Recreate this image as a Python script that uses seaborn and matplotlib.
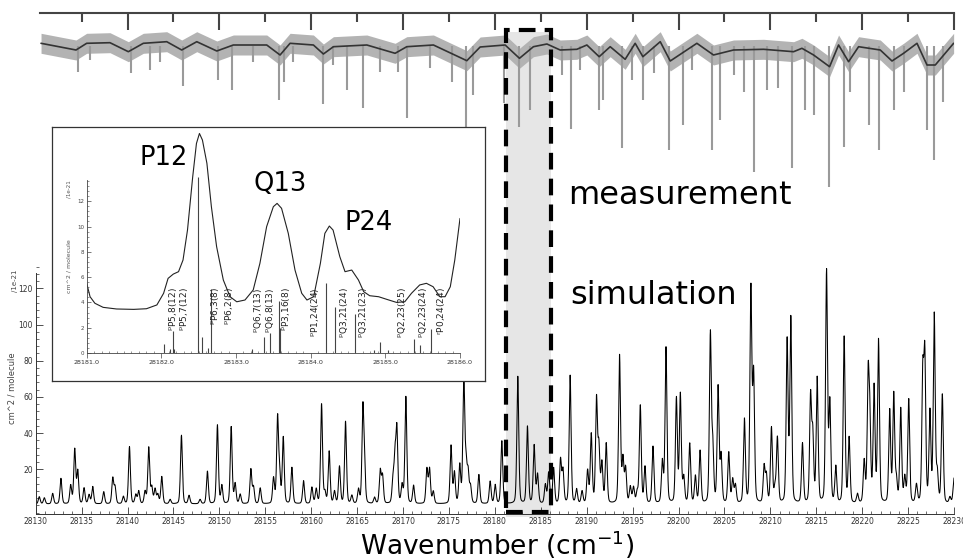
import numpy as np
import matplotlib
matplotlib.use("Agg")
import matplotlib.pyplot as plt
import matplotlib.transforms as mtransforms
from matplotlib.patches import Rectangle
from matplotlib.ticker import MultipleLocator, FixedLocator, FormatStrFormatter
import seaborn as sns

sns.set_theme(style="ticks")
plt.rcParams['font.family'] = ['DejaVu Sans']
plt.rcParams['mathtext.fontset'] = 'dejavusans'

# --- simulated spectrum: line positions (cm-1) and peak heights (1e-21 cm^2/molecule)
sim_pos = [28130.39, 28130.94, 28131.85, 28132.75, 28133.81, 28134.25, 28134.58, 28135.27, 28135.81, 28136.21,
           28137.41, 28138.39, 28138.64, 28139.55, 28140.21, 28140.9, 28141.22, 28141.91, 28142.31, 28142.64,
           28143.0, 28143.3, 28143.73, 28144.64, 28145.87, 28146.7, 28147.9, 28148.7, 28149.79, 28150.27,
           28151.29, 28151.72, 28152.27, 28153.43, 28153.72, 28154.45, 28155.9, 28156.34, 28156.56, 28156.96,
           28157.9, 28159.17, 28160.08, 28160.55, 28161.13, 28161.5, 28161.96, 28162.54, 28163.08, 28163.74,
           28164.43, 28165.15, 28165.63, 28165.81, 28166.9, 28167.52, 28167.77, 28168.9, 28169.12, 28169.33,
           28169.9, 28170.31, 28171.15, 28172.6, 28172.89, 28173.3, 28175.23, 28175.6, 28176.18, 28176.62,
           28176.87, 28177.09, 28177.35, 28178.26, 28179.49, 28180.04, 28180.76, 28182.5, 28183.55, 28184.28,
           28184.65, 28185.5, 28185.86, 28186.4, 28187.15, 28187.42, 28188.2, 28188.9, 28189.5, 28190.1,
           28190.5, 28191.07, 28191.33, 28191.66, 28192.13, 28193.58, 28193.95, 28194.24, 28194.75, 28195.1,
           28195.5, 28195.84, 28196.35, 28197.22, 28198.24, 28198.64, 28199.77, 28200.2, 28200.57, 28201.22,
           28201.84, 28202.35, 28203.47, 28203.73, 28204.31, 28204.64, 28205.47, 28205.9, 28206.2, 28207.18,
           28207.88, 28208.18, 28209.32, 28209.57, 28210.12, 28210.5, 28210.77, 28211.83, 28212.23, 28213.5,
           28214.38, 28214.62, 28215.1, 28216.12, 28216.48, 28217.13, 28218.04, 28218.58, 28219.49, 28220.22,
           28220.65, 28220.83, 28221.3, 28221.78, 28223.0, 28223.44, 28223.73, 28224.2, 28224.64, 28225.07,
           28225.91, 28226.6, 28226.82, 28227.38, 28227.85, 28228.18, 28228.73, 28229.56, 28230.0]
sim_height = [4.0, 3.4, 5.8, 14.1, 10.1, 30.0, 18.0, 8.7, 5.0, 9.5,
              6.7, 14.0, 9.0, 4.0, 31.6, 5.0, 7.0, 6.7, 31.0, 9.0,
              8.0, 5.0, 15.0, 2.4, 38.0, 4.6, 2.4, 18.0, 43.5, 10.0,
              42.5, 11.0, 5.2, 19.0, 9.0, 8.7, 14.0, 47.0, 15.0, 36.5,
              20.0, 12.7, 9.0, 8.0, 55.0, 6.0, 28.8, 6.7, 20.5, 45.4,
              4.4, 7.8, 52.0, 16.0, 3.4, 18.0, 15.0, 12.0, 24.0, 40.0,
              10.0, 59.0, 10.0, 19.0, 19.0, 6.7, 32.0, 17.0, 21.0, 69.0,
              20.0, 16.0, 9.0, 16.0, 12.4, 10.4, 34.7, 70.3, 42.6, 32.1,
              16.0, 10.4, 17.0, 19.6, 24.0, 18.0, 70.8, 7.8, 6.7, 18.0,
              38.0, 57.0, 30.0, 22.0, 33.0, 81.8, 24.0, 19.0, 9.0, 8.7,
              6.0, 54.0, 20.0, 31.5, 23.0, 86.0, 57.9, 60.0, 14.0, 33.0,
              15.0, 29.0, 93.0, 30.0, 64.0, 26.0, 28.0, 13.0, 10.0, 46.3,
              118.0, 70.0, 20.0, 15.0, 41.7, 8.0, 36.0, 90.0, 102.0, 33.0,
              58.0, 36.0, 69.0, 128.0, 55.0, 20.0, 92.0, 36.0, 5.0, 23.0,
              66.0, 42.0, 64.0, 90.0, 51.0, 60.0, 12.0, 52.0, 14.0, 57.3,
              10.0, 68.0, 78.0, 50.0, 104.0, 16.0, 60.0, 3.4, 14.0]

# --- measured spectrum (arbitrary units, 0 = baseline, negative = absorption)
meas_smooth_x = [28130.58, 28134.39, 28135.55, 28138.09, 28140.09, 28141.72, 28144.27, 28145.90, 28147.54, 28149.72,
                 28151.52, 28155.16, 28156.61, 28157.70, 28160.24, 28161.33, 28162.42, 28166.06, 28169.14, 28170.41,
                 28173.31, 28176.95, 28178.40, 28181.12, 28182.68, 28184.20, 28185.67, 28187.11, 28188.93, 28190.02,
                 28191.36, 28192.56, 28194.19, 28195.28, 28196.12, 28198.01, 28199.10, 28202.00, 28203.81, 28205.99,
                 28209.26, 28212.53, 28213.44, 28214.71, 28216.45, 28217.43, 28218.52, 28219.61, 28221.97, 28223.25,
                 28224.51, 28225.97, 28227.06, 28227.96, 28229.96]
meas_smooth_y = [-0.3, -7, -0.3, 0.3, -8.7, -0.3, 1.3, -7, 1.3, -8,
                 -2, -2, -12, -0.3, -2, -11, -3.7, -2, -10.3, -3.7,
                 -2, -17.7, -4, -2, -15.3, -3.7, -1, -7, -6.3, -2,
                 -13.7, -3.7, -16.3, -0.3, -13.7, 1.3, -18, -0.3, -12, -7,
                 -6.3, -8.7, -5.3, -12, -23.7, -2, -18.7, -3.7, -7, -18,
                 -10.3, -0.3, -22, -22, -0.3]
meas_line_x = [28134.58, 28135.92, 28140.38, 28142.45, 28143.54, 28146.01, 28149.89, 28151.42, 28153.67, 28156.50,
               28157.05, 28158.03, 28161.26, 28162.39, 28163.88, 28165.69, 28167.51, 28169.47, 28170.48, 28172.95,
               28175.32, 28176.84, 28177.64, 28181.01, 28182.68, 28183.85, 28187.30, 28188.28, 28189.29, 28191.36,
               28191.83, 28193.83, 28194.92, 28196.08, 28197.35, 28198.99, 28200.44, 28201.46, 28203.64, 28204.54,
               28205.99, 28207.08, 28208.25, 28209.63, 28210.83, 28212.35, 28213.80, 28214.71, 28216.34, 28217.97,
               28218.71, 28220.78, 28221.86, 28223.42, 28224.51, 28227.06, 28227.86, 28228.80]
meas_line_depth = [-28.7, -17, -30, -27, -19, -43, -37, -47, -19, -57,
                   -39, -19, -61, -22, -47, -65, -29, -29, -75, -25,
                   -39, -97, -52, -60, -84, -67, -32, -86, -27, -67,
                   -57, -105, -37, -57, -30, -107, -82, -27, -107, -77,
                   -32, -49, -129, -47, -45, -125, -67, -72, -144, -104,
                   -49, -82, -107, -67, -49, -87, -117, -59]

# --- zoomed inset: envelope, stick spectrum, assignments
zoom_x = [28181.0, 28181.045, 28181.11, 28181.22, 28181.40, 28181.63, 28181.80, 28181.94, 28182.03, 28182.09,
          28182.16, 28182.23, 28182.29, 28182.35, 28182.42, 28182.47, 28182.51, 28182.55, 28182.61, 28182.67,
          28182.74, 28182.83, 28182.92, 28183.01, 28183.12, 28183.23, 28183.32, 28183.41, 28183.50, 28183.55,
          28183.61, 28183.70, 28183.79, 28183.88, 28183.95, 28184.04, 28184.13, 28184.19, 28184.25, 28184.30,
          28184.39, 28184.46, 28184.55, 28184.64, 28184.71, 28184.79, 28184.91, 28185.02, 28185.15, 28185.26,
          28185.35, 28185.46, 28185.55, 28185.64, 28185.73, 28185.80, 28185.87, 28185.93, 28186.0]
zoom_y = [5.51, 4.45, 3.93, 3.61, 3.48, 3.45, 3.5, 3.8, 4.72, 5.9,
          6.24, 6.43, 7.35, 9.72, 13.94, 16.57, 17.36, 16.84, 15.0, 11.57,
          8.41, 5.77, 4.45, 4.05, 4.19, 4.98, 7.09, 9.99, 11.57, 11.83,
          11.44, 9.46, 6.56, 4.72, 4.19, 4.45, 7.09, 9.46, 10.04, 9.72,
          7.62, 6.43, 6.56, 5.77, 4.85, 4.53, 4.45, 4.24, 4.0, 4.05,
          4.72, 5.38, 5.51, 5.24, 4.45, 4.45, 5.24, 7.35, 10.64]
stick_x = [28182.04, 28182.12, 28182.15, 28182.165, 28182.49, 28182.54, 28182.62, 28182.67, 28183.22, 28183.37,
           28183.45, 28183.57, 28183.585, 28184.21, 28184.33, 28184.59, 28184.85, 28184.93, 28185.04, 28185.38,
           28185.46, 28185.61]
stick_h = [0.71, 0.32, 1.77, 0.32, 13.94, 1.26, 0.37, 5.08, 0.32, 1.29,
           1.58, 4.14, 1.98, 5.53, 3.61, 3.06, 0.21, 0.84, 0.26, 1.11,
           0.61, 1.9]
assign_x = [28182.15, 28182.30, 28182.72, 28182.90, 28183.30, 28183.45, 28183.67, 28184.06, 28184.44, 28184.70,
            28185.22, 28185.51, 28185.75]
assign_lbl = [r"${}^{\mathrm{p}}$P5,8(12)", r"${}^{\mathrm{p}}$P5,7(12)",
              r"${}^{\mathrm{p}}$P6,3(8)", r"${}^{\mathrm{p}}$P6,2(8)",
              r"${}^{\mathrm{p}}$Q6,7(13)", r"${}^{\mathrm{p}}$Q6,8(13)",
              r"${}^{\mathrm{p}}$P3,16(8)", r"${}^{\mathrm{p}}$P1,24(24)",
              r"${}^{\mathrm{p}}$Q3,21(24)", r"${}^{\mathrm{p}}$Q3,21(23)",
              r"${}^{\mathrm{p}}$Q2,23(25)", r"${}^{\mathrm{p}}$Q2,23(24)",
              r"${}^{\mathrm{r}}$P0,24(24)"]
band_names = ["P12", "Q13", "P24"]

W, H = 963, 560
fig = plt.figure(figsize=(W / 100, H / 100), dpi=100)


def rect(l, t, r, b):
    # pixel box -> figure fraction
    return [l / W, 1 - b / H, (r - l) / W, (b - t) / H]


# simulation panel
ax = fig.add_axes(rect(35.7, 265, 954, 514))
ax.patch.set_alpha(0)
blend = mtransforms.blended_transform_factory(ax.transData, fig.transFigure)
ax.add_patch(Rectangle((28181.18, 1 - 517 / H), 4.9, (517 - 32) / H, transform=blend,
                       fc='#e6e6e6', ec='none', clip_on=False, zorder=0))

# stick list broadened with a pseudo-Voigt line shape
grid = np.linspace(28130, 28230, 8001)
d = grid[:, None] - np.array(sim_pos)[None, :]
shape = 0.65 * np.exp(-d ** 2 / (2 * 0.11 ** 2)) + 0.35 / (1 + (d / 0.1) ** 2)
spec = 0.8 + (np.array(sim_height)[None, :] * shape).sum(axis=1)
sns.lineplot(x=grid, y=spec, ax=ax, color='black', lw=0.75, estimator=None)
ax.set_xlim(28130, 28230)
ax.set_ylim(-4.7, 132.9)
ax.set_xlabel('')
ax.set_ylabel('')
sns.despine(ax=ax)
ax.spines['left'].set_bounds(-4.7, 128.5)
for s in ['left', 'bottom']:
    ax.spines[s].set_color('#333333')
    ax.spines[s].set_linewidth(0.7)
ax.xaxis.set_major_locator(MultipleLocator(5))
ax.xaxis.set_minor_locator(MultipleLocator(1))
ax.set_yticks([20, 40, 60, 80, 100, 120])
ax.yaxis.set_minor_locator(MultipleLocator(4))
ax.tick_params(axis='both', which='major', direction='in', length=5, width=0.6,
               labelsize=5.5, pad=2, color='#333333', labelcolor='#333333')
ax.tick_params(axis='both', which='minor', direction='in', length=2.5, width=0.5, color='#333333')

fig.text(12 / W, 1 - 388 / H, 'cm^2 / molecule', rotation=90, ha='center', va='center',
         fontsize=6, color='#444444')
fig.text(15 / W, 1 - 281 / H, '/1e-21', rotation=90, ha='center', va='center',
         fontsize=5, color='#444444')

# measurement strip
meas = fig.add_axes(rect(35.7, 13, 954, 190))
meas.patch.set_alpha(0)
sm_y = np.array(meas_smooth_y)
meas.fill_between(meas_smooth_x, sm_y - 10, sm_y + 10, color='#b3b3b3', lw=0)
meas.vlines(meas_line_x, meas_line_depth, -3, color='#9a9a9a', lw=1.5)
sns.lineplot(x=meas_smooth_x, y=meas_smooth_y, ax=meas, color='#333333', lw=1.2, estimator=None)
meas.set_xlim(28130, 28230)
meas.set_ylim(-147, 30)
meas.set_xlabel('')
meas.set_ylabel('')
for s in ['left', 'right', 'bottom']:
    meas.spines[s].set_visible(False)
meas.spines['top'].set_color('#444444')
meas.spines['top'].set_linewidth(1.5)
meas.spines['top'].set_bounds(28130.5, 28230)
meas.set_yticks([])
meas.xaxis.tick_top()
meas.xaxis.set_major_locator(FixedLocator(list(range(28140, 28231, 10))))
meas.xaxis.set_minor_locator(FixedLocator(list(range(28135, 28230, 10))))
meas.tick_params(axis='x', which='both', direction='in', top=True, bottom=False,
                 labeltop=False, labelbottom=False, width=1.5, color='#444444')
meas.tick_params(axis='x', which='major', length=12.5)
meas.tick_params(axis='x', which='minor', length=6.5)

# inset frame
box = fig.add_axes(rect(52, 127, 485, 381))
box.set_facecolor('white')
box.set_xticks([])
box.set_yticks([])
for s in box.spines.values():
    s.set_color('#333333')
    s.set_linewidth(0.9)

ins = fig.add_axes(rect(86.7, 127, 460, 353))
ins.patch.set_alpha(0)
ins.vlines(stick_x, 0, stick_h, color='#444444', lw=0.8)
sns.lineplot(x=zoom_x, y=zoom_y, ax=ins, color='#222222', lw=0.8, estimator=None)
ins.set_xlim(28181, 28186)
ins.set_ylim(0, 17.87)
ins.set_xlabel('')
ins.set_ylabel('')
ins.spines['top'].set_visible(False)
ins.spines['right'].set_visible(False)
ins.spines['left'].set_bounds(0, 13.7)
for s in ['left', 'bottom']:
    ins.spines[s].set_color('#444444')
    ins.spines[s].set_linewidth(0.6)
ins.xaxis.set_major_locator(MultipleLocator(1.0))
ins.xaxis.set_major_formatter(FormatStrFormatter('%.1f'))
ins.xaxis.set_minor_locator(MultipleLocator(0.1))
ins.yaxis.set_major_locator(FixedLocator([0, 2, 4, 6, 8, 10, 12]))
ins.yaxis.set_minor_locator(FixedLocator(list(np.arange(0, 13.7, 0.4))))
ins.tick_params(axis='x', which='major', direction='out', length=3.5, width=0.5,
                labelsize=4.6, pad=1.5, color='#444444', labelcolor='#333333')
ins.tick_params(axis='y', which='major', direction='in', length=3, width=0.5,
                labelsize=4, pad=1.5, color='#444444', labelcolor='#444444')
ins.tick_params(axis='both', which='minor', direction='in', length=1.5, width=0.4, color='#444444')

for xl, lbl in zip(assign_x, assign_lbl):
    ins.text(xl, 5.2, lbl, rotation=90, ha='center', va='top', fontsize=6.5, color='#222222')

fig.text(69 / W, 1 - 266 / H, 'cm^2 / molecule', rotation=90, ha='center', va='center',
         fontsize=4.5, color='#555555')
fig.text(69 / W, 1 - 189 / H, '/1e-21', rotation=90, ha='center', va='center',
         fontsize=4, color='#555555')

for name, (px, py) in zip(band_names, [(139, 165), (253, 191), (344, 230)]):
    fig.text(px / W, 1 - py / H, name, ha='left', va='baseline', fontsize=18.5, color='black')

fig.text(568 / W, 1 - 204 / H, 'measurement', ha='left', va='baseline', fontsize=23, color='black')
fig.text(570 / W, 1 - 304 / H, 'simulation', ha='left', va='baseline', fontsize=23, color='black')
fig.text(360 / W, 1 - 555 / H, 'Wavenumber (cm$^{-1}$)', ha='left', va='baseline',
         fontsize=19, color='black')

# highlighted window shared by both panels
fig.add_artist(Rectangle((28181.18, 1 - 512 / H), 4.9, (512 - 30) / H, transform=blend,
                         fill=False, ec='black', lw=3, ls=(0, (4, 2.2)), zorder=10))

fig.savefig('out.png', dpi=100)
